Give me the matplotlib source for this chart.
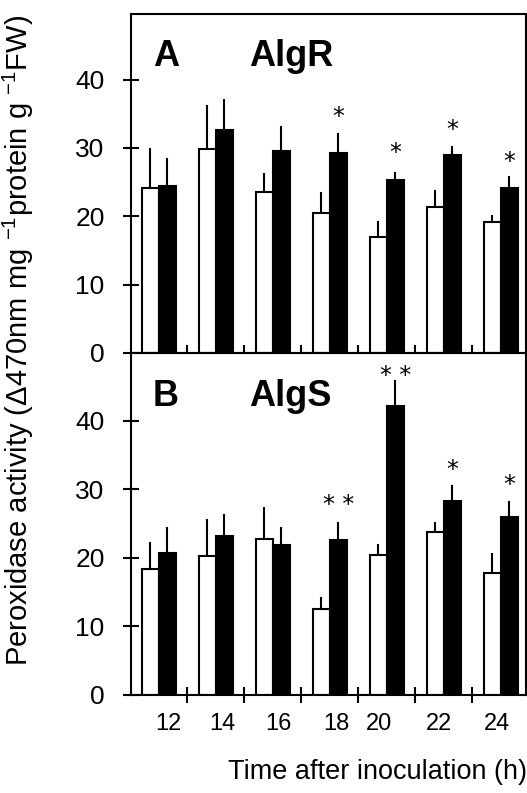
import numpy as np
import matplotlib
matplotlib.use("Agg")
import matplotlib.pyplot as plt

plt.rcParams['font.family'] = ['Liberation Sans', 'DejaVu Sans']
plt.rcParams['mathtext.fontset'] = 'custom'
plt.rcParams['mathtext.rm'] = 'Liberation Sans'
plt.rcParams['mathtext.default'] = 'rm'

hours = ["12", "14", "16", "18", "20", "22", "24"]

# panel A - AlgR
a_white = [24.1, 29.8, 23.6, 20.5, 16.9, 21.4, 19.1]
a_white_err = [5.7, 6.3, 2.6, 2.9, 2.2, 2.3, 1.0]
a_black = [24.4, 32.6, 29.6, 29.2, 25.3, 28.9, 24.2]
a_black_err = [4.0, 4.4, 3.5, 2.8, 1.1, 1.2, 1.6]
a_stars = ["", "", "", "*", "*", "*", "*"]
a_star_y = [0, 0, 0, 34.6, 29.3, 32.6, 28.0]

# panel B - AlgS
b_white = [18.4, 20.2, 22.7, 12.5, 20.4, 23.7, 17.8]
b_white_err = [3.8, 5.3, 4.5, 1.6, 1.5, 1.3, 2.7]
b_black = [20.7, 23.2, 21.9, 22.6, 42.1, 28.3, 26.0]
b_black_err = [3.6, 3.0, 2.5, 2.4, 3.7, 2.1, 2.2]
b_stars = ["", "", "", "**", "**", "*", "*"]
b_star_y = [0, 0, 0, 27.7, 46.6, 32.8, 30.6]

W, H = 527, 793
fig = plt.figure(figsize=(W / 100, H / 100), dpi=100)
left, right = 131 / W, 526 / W
axA = fig.add_axes([left, 1 - 353 / H, right - left, (353 - 14) / H])
axB = fig.add_axes([left, 1 - 694.5 / H, right - left, (694.5 - 353) / H])

x = np.arange(len(hours))
bw = 0.3


def draw(ax, white, werr, black, berr, stars, star_y, letter, name, ymax):
    ax.bar(x - bw / 2, white, bw, color='white', edgecolor='black', linewidth=1.5, zorder=2)
    ax.bar(x + bw / 2, black, bw, color='black', edgecolor='black', linewidth=1.5, zorder=2)
    for i in range(len(x)):
        ax.plot([x[i] - bw / 2] * 2, [white[i], white[i] + werr[i]], color='black', lw=1.5, zorder=1)
        ax.plot([x[i] + bw / 2] * 2, [black[i], black[i] + berr[i]], color='black', lw=1.5, zorder=1)
        if stars[i]:
            ax.text(x[i] + bw / 2, star_y[i], " ".join(stars[i]), ha='center', va='center',
                    fontsize=17, family='DejaVu Sans')
    ax.set_xlim(-0.49, 6.44)
    ax.set_ylim(0, ymax)
    ax.set_yticks([0, 10, 20, 30, 40])
    ax.set_xticks(x[:-1] + 0.5)
    ax.tick_params(axis='both', direction='inout', length=12, width=1.5, labelsize=19)
    ax.tick_params(axis='y', pad=13)
    ax.set_xticklabels([])
    for s in ax.spines.values():
        s.set_linewidth(1.5)
    ax.text(0.056, 0.874, letter, transform=ax.transAxes, fontsize=26, fontweight='bold', va='center')
    ax.text(0.30, 0.874, name, transform=ax.transAxes, fontsize=26, fontweight='bold', va='center')


draw(axA, a_white, a_white_err, a_black, a_black_err, a_stars, a_star_y, "A", "AlgR", 49.6)
draw(axB, b_white, b_white_err, b_black, b_black_err, b_stars, b_star_y, "B", "AlgS", 49.9)

# hour labels sit a little off the group centres in the original
label_shift = [0.16, 0.11, 0.09, 0.12, -0.14, -0.09, -0.07]
for i, h in enumerate(hours):
    axB.text(x[i] + label_shift[i], -4.3, h, ha='center', va='center', fontsize=17)

fig.text(18 / W, 1 - 340 / H, "Peroxidase activity (\u0394470nm mg $^{-1}$protein g $^{-1}$FW)",
         rotation=90, ha='center', va='center', fontsize=21)
fig.text(378 / W, 1 - 772 / H, "Time after inoculation (h)", ha='center', va='center', fontsize=19.5)

fig.savefig("out.png", dpi=100)
